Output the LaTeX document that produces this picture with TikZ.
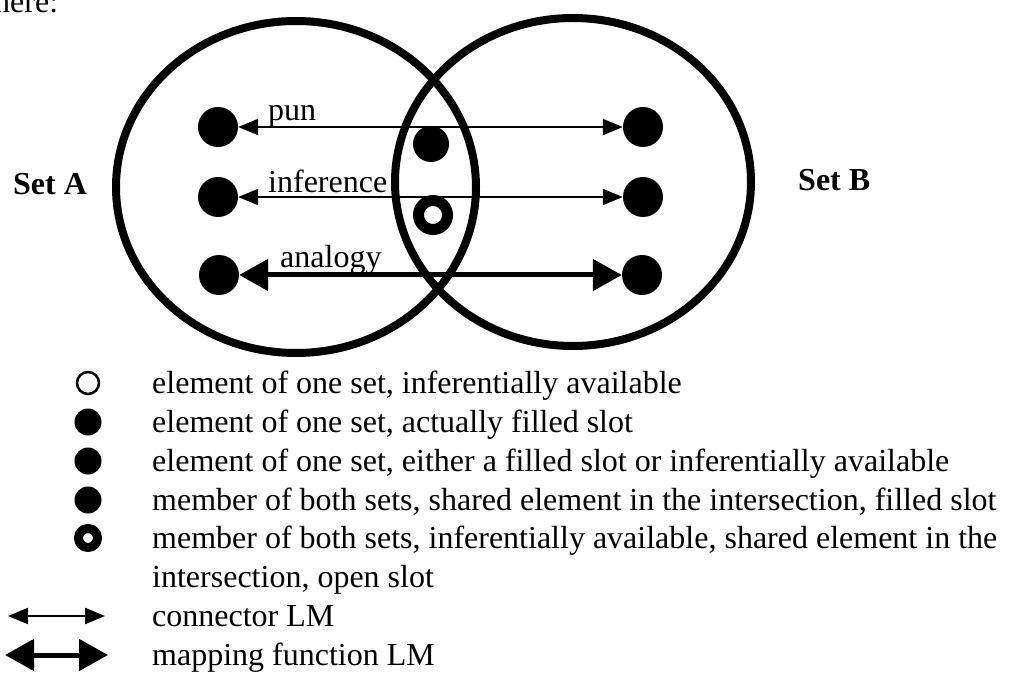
\documentclass[tikz,border=0pt]{standalone}
\usepackage{fontspec}
\setmainfont{Liberation Serif}
\usetikzlibrary{arrows.meta,shapes.geometric}
\begin{document}
\begin{tikzpicture}[x=1pt,y=-1pt,
  txt/.style={inner sep=0pt,anchor=base west,font=\fontsize{32}{37}\selectfont},
  setlabel/.style={inner sep=0pt,anchor=base west,font=\fontsize{32}{37}\selectfont\bfseries},
  setell/.style={ellipse,draw,line width=8pt,inner sep=0pt},
  bigdot/.style={circle,fill,inner sep=0pt,minimum size=40pt},
  middot/.style={circle,fill,inner sep=0pt,minimum size=36pt},
  bigring/.style={circle,draw,line width=11pt,inner sep=0pt,minimum size=29pt},
  lgdot/.style={circle,fill,inner sep=0pt,minimum size=27pt},
  lgopen/.style={circle,draw,line width=2.5pt,inner sep=0pt,minimum size=22pt},
  lgring/.style={circle,draw,line width=9pt,inner sep=0pt,minimum size=19pt},
  conn/.style={line width=2pt,{Triangle[length=20pt,width=16pt]}-{Triangle[length=20pt,width=16pt]}},
  mapf/.style={line width=5pt,{Triangle[length=29pt,width=31pt]}-{Triangle[length=29pt,width=31pt]}}
]
\useasboundingbox (0,0) rectangle (1012,676);
\clip (0,0) rectangle (1012,676);
% partial text from surrounding page
\node[txt] (here) at (-6,13) {here:};
% sets
\node[setell,minimum width=360pt,minimum height=332pt] (setA) at (296,187) {};
\node[setell,minimum width=356pt,minimum height=328pt] (setB) at (573,182) {};
\node[setlabel] (labA) at (13,195) {Set A};
\node[setlabel] (labB) at (798,191) {Set B};
% elements
\node[bigdot] (a1) at (218,127) {};
\node[bigdot] (a2) at (218,197) {};
\node[bigdot] (a3) at (219,275) {};
\node[bigdot] (b1) at (643,127) {};
\node[bigdot] (b2) at (643,197) {};
\node[bigdot] (b3) at (642,275) {};
\node[middot] (m1) at (431,144) {};
\node[bigring] (m2) at (433,215) {};
% connectors
\draw[conn] (a1) -- (b1);
\draw[conn] (a2) -- (b2);
\draw[mapf] (a3) -- (b3);
\node[txt] (pun) at (268,121) {pun};
\node[txt] (inf) at (268,193) {inference};
\node[txt] (ana) at (280,268) {analogy};
% legend
\node[lgopen] (s1) at (88,383) {};
\node[lgdot]  (s2) at (88,422) {};
\node[lgdot]  (s3) at (88,461) {};
\node[lgdot]  (s4) at (88,500) {};
\node[lgring] (s5) at (88,538) {};
\coordinate (c7a) at (8,616);
\coordinate (c7b) at (105,616);
\coordinate (c8a) at (5,655);
\coordinate (c8b) at (108,655);
\draw[conn] (c7a) -- (c7b);
\draw[mapf] (c8a) -- (c8b);
\node[txt] (t1) at (152,393) {element of one set, inferentially available};
\node[txt] (t2) at (152,432) {element of one set, actually filled slot};
\node[txt] (t3) at (152,471) {element of one set, either a filled slot or inferentially available};
\node[txt] (t4) at (152,510) {member of both sets, shared element in the intersection, filled slot};
\node[txt] (t5) at (152,548) {member of both sets, inferentially available, shared element in the};
\node[txt] (t6) at (152,587) {intersection, open slot};
\node[txt] (t7) at (152,626) {connector LM};
\node[txt] (t8) at (152,665) {mapping function LM};
\end{tikzpicture}
\end{document}
